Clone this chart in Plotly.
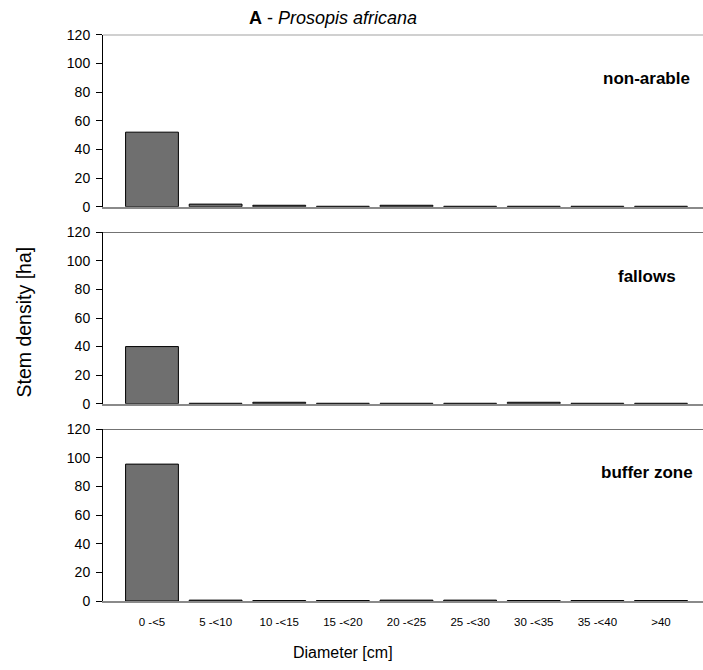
import plotly.graph_objects as go

# Diameter classes and stem densities (stems per ha) for Prosopis africana
classes = ["0 -<5", "5 -<10", "10 -<15", "15 -<20", "20 -<25",
           "25 -<30", "30 -<35", "35 -<40", ">40"]
non_arable = [52, 1.8, 1.0, 0.3, 1.0, 0.3, 0.3, 0.3, 0.3]
fallows = [40, 0.3, 1.0, 0.3, 0.3, 0.3, 1.0, 0.3, 0.3]
buffer_zone = [95.5, 0.6, 0.3, 0.3, 0.6, 0.6, 0.3, 0.3, 0.3]
panel_names = ["non-arable", "fallows", "buffer zone"]
y_ticks = [0, 20, 40, 60, 80, 100, 120]

W, H = 703, 670
FONT = "Liberation Sans, Arial, sans-serif"

# pixel extents of each panel (top, bottom)
panels_px = [(34.7, 206.7), (232.3, 403.7), (429.0, 601.0)]
x_left_px = 103

fig = go.Figure()
series = [non_arable, fallows, buffer_zone]

for i, (vals, name) in enumerate(zip(series, panel_names)):
    n = i + 1
    xa = "x" if n == 1 else f"x{n}"
    ya = "y" if n == 1 else f"y{n}"
    fig.add_trace(go.Bar(
        x=list(range(len(classes))), y=vals, xaxis=xa, yaxis=ya,
        width=0.83,
        marker=dict(color="#6f6f6f", line=dict(color="#000000", width=1)),
        showlegend=False, hoverinfo="skip",
    ))
    top, bot = panels_px[i]
    dom_y = [1 - bot / H, 1 - top / H]
    xkey = "xaxis" if n == 1 else f"xaxis{n}"
    ykey = "yaxis" if n == 1 else f"yaxis{n}"
    fig.update_layout(**{
        xkey: dict(
            domain=[x_left_px / W, 1.0], anchor=ya,
            range=[-0.77, 8.66], automargin=False,
            tickmode="array", tickvals=list(range(len(classes))),
            ticktext=classes if n == 3 else [""] * len(classes),
            showticklabels=(n == 3), ticks="",
            ticklabelstandoff=9,
            showline=True, linecolor="#8a8a8a", linewidth=1.5,
            showgrid=False, zeroline=False,
            tickfont=dict(family=FONT, size=11.5, color="#000"),
        ),
        ykey: dict(
            domain=dom_y, anchor=xa, range=[0, 120], automargin=False,
            tickmode="array", tickvals=y_ticks,
            ticks="outside", ticklen=6, tickcolor="#000", tickwidth=1,
            showline=True, linecolor="#000", linewidth=1,
            showgrid=False, zeroline=False,
            tickfont=dict(family=FONT, size=14, color="#000"),
            ticklabelstandoff=3,
        ),
    })
    # top border of the panel
    fig.add_shape(type="line", xref=f"{xa} domain", yref=ya,
                  x0=0, x1=1, y0=120, y1=120,
                  line=dict(color="#444444", width=1.3))
    # panel label
    fig.add_annotation(x=646.5 / W, xref="paper", y=89.4, yref=ya,
                       text=f"<b>{name}</b>", showarrow=False,
                       xanchor="center", yanchor="middle",
                       font=dict(family=FONT, size=17, color="#000"))

# figure title
fig.add_annotation(x=333 / W, y=1 - 17.5 / H, xref="paper", yref="paper",
                   text="<b>A</b> - <i>Prosopis africana</i>", showarrow=False,
                   xanchor="center", yanchor="middle",
                   font=dict(family=FONT, size=18, color="#000"))
# axis titles
fig.add_annotation(x=342.5 / W, y=1 - 652 / H, xref="paper", yref="paper",
                   text="Diameter [cm]", showarrow=False,
                   xanchor="center", yanchor="middle",
                   font=dict(family=FONT, size=16, color="#000"))
fig.add_annotation(x=23 / W, y=1 - 322.5 / H, xref="paper", yref="paper",
                   text="Stem density [ha]", showarrow=False, textangle=-90,
                   xanchor="center", yanchor="middle",
                   font=dict(family=FONT, size=19.5, color="#000"))

fig.update_layout(
    width=W, height=H,
    margin=dict(l=0, r=0, t=0, b=0, pad=0, autoexpand=False),
    paper_bgcolor="white", plot_bgcolor="white",
    bargap=0.17,
)

fig.write_html("out.html")
